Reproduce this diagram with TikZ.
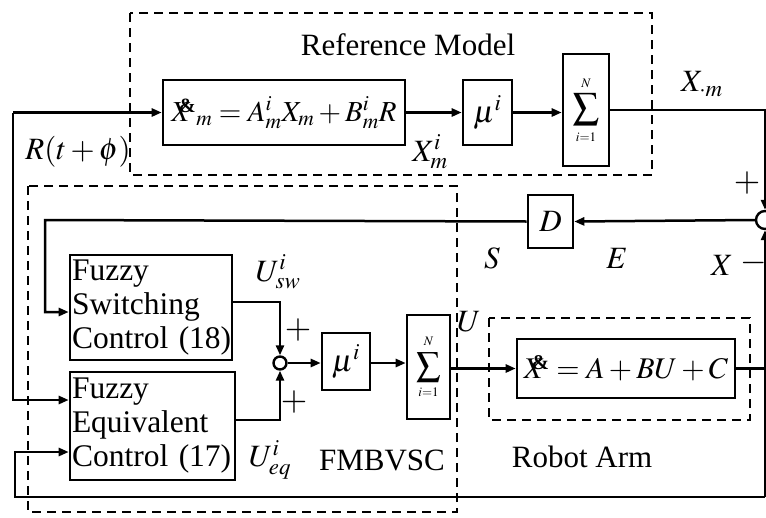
\documentclass[tikz,border=0pt]{standalone}
\usepackage{mathptmx}
\usepackage{fontspec}
\setmainfont{Liberation Serif}
\usepackage{graphicx}
\usetikzlibrary{arrows.meta,calc}
\newcommand{\Xamp}{X\kern-0.45em\raisebox{0.3em}{\scalebox{0.7}{\textbf{\&}}}\kern0.02em}
\begin{document}
\begin{tikzpicture}[x=1pt,y=-1pt,
  every node/.style={font=\fontsize{31}{34}\selectfont, inner sep=0pt},
  blk/.style={draw, line width=2.6pt, minimum width=#1, align=center},
  txtblk/.style={draw, line width=2.6pt, minimum width=#1, text width=#1-4pt, align=left, font=\fontsize{31.5}{34}\selectfont},
  sumblk/.style={draw, line width=2.6pt, minimum width=#1, align=center, font=\fontsize{13}{13}\selectfont},
  grp/.style={draw, line width=2.4pt, dash pattern=on 9pt off 6pt},
  con/.style={line width=2.5pt},
  arr/.style={con, -{Triangle[length=10pt,width=8pt]}},
  sgn/.style={font=\fontsize{34}{34}\selectfont}]
\useasboundingbox (0,0) rectangle (766,517);

% group boxes
\draw[grp] (130,13) rectangle (652,175);
\draw[grp] (28,186) rectangle (457,512);
\draw[grp] (489,318) rectangle (750,420);

% blocks
\node[blk=242, minimum height=65, font=\fontsize{29}{32}\selectfont] (eq) at (284,112.5) {$\Xamp_{m} = A^{i}_{m}X_{m} + B^{i}_{m}R$};
\node[blk=49, minimum height=65] (mu1) at (487.5,112.5) {$\mu^{i}$};
\node[sumblk=46, minimum height=112] (s1) at (586,110) {$N$\\[5pt]{\fontsize{26}{26}\selectfont$\displaystyle\sum$}\\[6pt]$i{=}1$};
\node[blk=45, minimum height=53] (D) at (550.5,221.5) {$D$};
\node[txtblk=162, minimum height=105] (sw) at (151,307.5) {Fuzzy\\Switching\\Control~(18)};
\node[txtblk=165, minimum height=108] (eqc) at (152.5,426) {Fuzzy\\Equivalent\\Control~(17)};
\node[draw, circle, line width=2.4pt, minimum size=13pt] (c1) at (280,363) {};
\node[blk=48, minimum height=57] (mu2) at (346,361.5) {$\mu^{i}$};
\node[sumblk=43, minimum height=104] (s2) at (428.5,367) {$N$\\[5pt]{\fontsize{24}{24}\selectfont$\displaystyle\sum$}\\[5pt]$i{=}1$};
\node[blk=218, minimum height=59, font=\fontsize{30}{32}\selectfont] (rob) at (626,368.5) {$\Xamp = A + BU + C$};
\node[draw, circle, line width=2.4pt, minimum size=18pt] (c2) at (765,220) {};

% coordinates
\coordinate (rTop) at (13,112.5);
\coordinate (rBot) at (13,400);
\coordinate (xm) at (765,110);
\coordinate (dL) at (45,220);
\coordinate (dB) at (45,312);
\coordinate (swo) at (280,302);
\coordinate (eqo) at (280,420);
\coordinate (fbR) at (765,497);
\coordinate (fbL) at (15,497);
\coordinate (fbU) at (15,452);
\coordinate (ro) at (765,368.5);

% connectors
\draw[arr] (rTop) -- (eq.west);
\draw[arr] (rTop) -- (rBot) -- (rBot -| eqc.west);
\draw[arr] (eq.east) -- (mu1.west);
\draw[arr] (mu1.east) -- (mu1.east -| s1.west);
\draw[arr] (s1.east |- xm) -- (xm) -- (c2.north);
\draw[arr] (fbR) -- (c2.south);
\draw[con] (rob.east) -- (ro);
\draw[arr] (c2.west) -- (D.east);
\draw[arr] (D.west) -- (dL) -- (dB) -- (dB -| sw.west);
\draw[arr] (swo -| sw.east) -- (swo) -- (c1.north);
\draw[arr] (eqo -| eqc.east) -- (eqo) -- (c1.south);
\draw[arr] (c1.east) -- (mu2.west |- c1.east);
\draw[arr] (mu2.east |- c1.east) -- (s2.west |- c1.east);
\draw[arr] (s2.east |- rob.west) -- (rob.west);
\draw[arr] (fbR) -- (fbL) -- (fbU) -- (fbU -| eqc.west);

% labels
\node (t1) at (408,45) {Reference Model};
\node (t2) at (78,152) {$R(t+\phi)$};
\node (t3) at (430,152) {$X^{i}_{m}$};
\node (t4) at (702,84) {$X_{\cdot m}$};
\node[sgn] (t5) at (747,183) {$+$};
\node[sgn] (t6) at (754,263) {$-$};
\node (t7) at (722,265) {$X$};
\node (t8) at (617,258) {$E$};
\node (t9) at (492,258) {$S$};
\node (t10) at (278,272) {$U^{i}_{sw}$};
\node[sgn] (t11) at (298,330) {$+$};
\node[sgn] (t12) at (294,402) {$+$};
\node (t13) at (270,460) {$U^{i}_{eq}$};
\node (t14) at (382,460) {FMBVSC};
\node (t15) at (469,322) {$U$};
\node (t16) at (582,457) {Robot Arm};
\end{tikzpicture}
\end{document}
